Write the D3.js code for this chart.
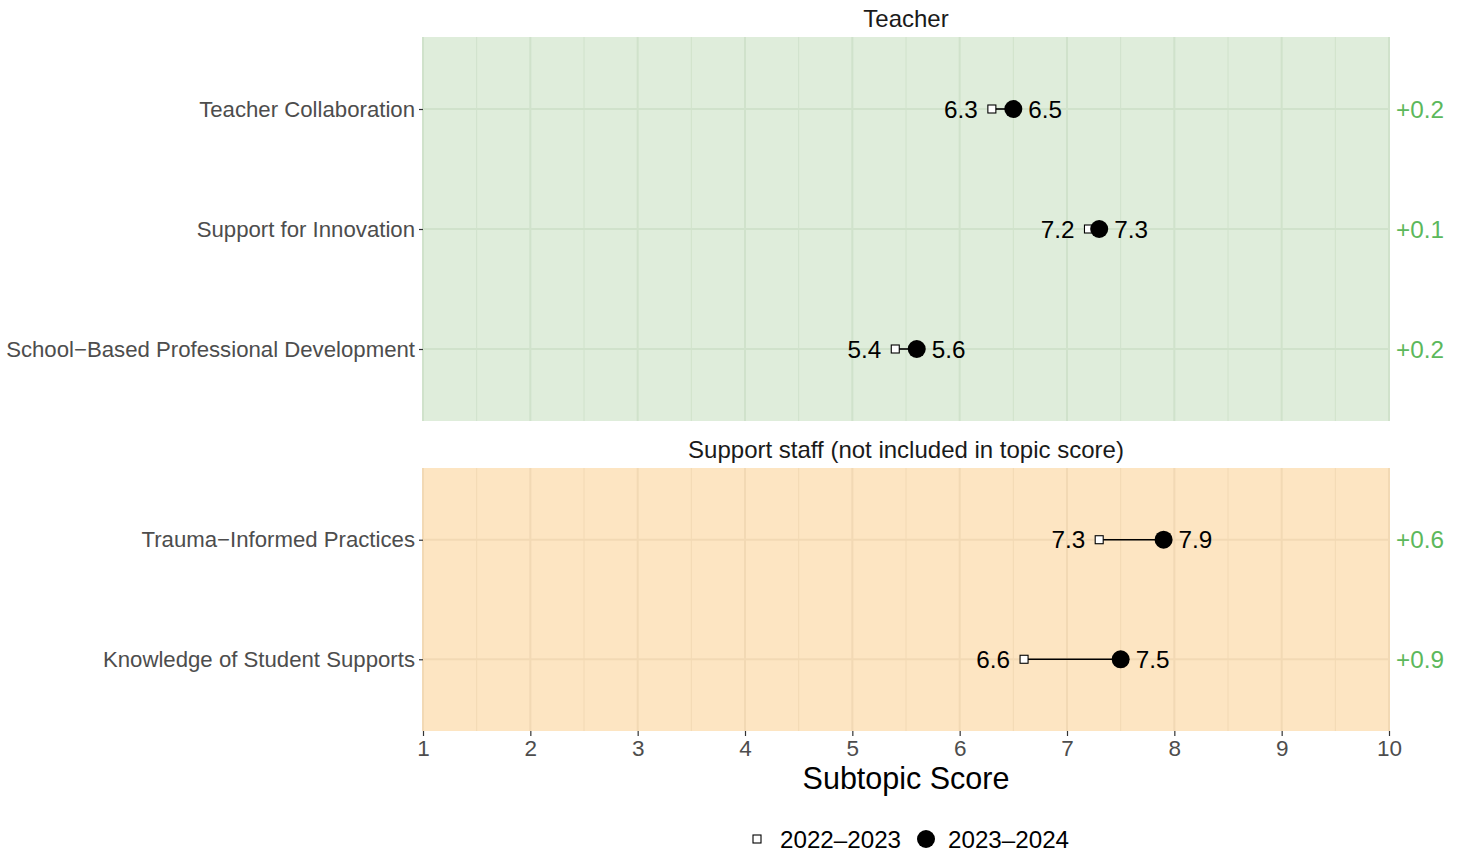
<!DOCTYPE html>
<html>
<head>
<meta charset="utf-8">
<script src="https://cdn.jsdelivr.net/npm/d3@7"></script>
<style>
body{margin:0;background:#fff;}
text{font-family:"Liberation Sans",Arial,sans-serif;}
</style>
</head>
<body>
<svg id="chart" width="1462" height="852"></svg>
<script>
// ---- data ----
const teacherCategories = ["Teacher Collaboration", "Support for Innovation", "School\u2212Based Professional Development"];
const teacherPrev = [6.3, 7.2, 5.4];
const teacherCurr = [6.5, 7.3, 5.6];

const staffCategories = ["Trauma\u2212Informed Practices", "Knowledge of Student Supports"];
const staffPrev = [7.3, 6.6];
const staffCurr = [7.9, 7.5];

const panelTitles = ["Teacher", "Support staff (not included in topic score)"];
const seriesNames = ["2022\u20132023", "2023\u20132024"];
const xTicks = [1, 2, 3, 4, 5, 6, 7, 8, 9, 10];
const xMinorTicks = [1.5, 2.5, 3.5, 4.5, 5.5, 6.5, 7.5, 8.5, 9.5];

// ---- layout ----
const svg = d3.select("#chart");
const x = d3.scaleLinear().domain([1, 10]).range([423, 1389]);

const panels = [
  {title: panelTitles[0], cats: teacherCategories, prev: teacherPrev, curr: teacherCurr,
   top: 37, bottom: 421, fill: "#dfeddb", grid: "#d0e2cb"},
  {title: panelTitles[1], cats: staffCategories, prev: staffPrev, curr: staffCurr,
   top: 468, bottom: 731, fill: "#fde5c2", grid: "#f2d9b4"}
];

const fmtDelta = d => (d >= 0 ? "+" : "") + d.toFixed(1);

panels.forEach(p => {
  const y = d3.scalePoint().domain(p.cats).range([p.top, p.bottom]).padding(0.6);
  const g = svg.append("g");

  g.append("rect").attr("x", x(1)).attr("y", p.top)
    .attr("width", x(10) - x(1)).attr("height", p.bottom - p.top)
    .attr("fill", p.fill);

  // minor grid
  g.selectAll(".minor").data(xMinorTicks).join("line")
    .attr("x1", d => x(d)).attr("x2", d => x(d))
    .attr("y1", p.top).attr("y2", p.bottom)
    .attr("stroke", p.grid).attr("stroke-width", 1);
  // major grid
  g.selectAll(".major").data(xTicks).join("line")
    .attr("x1", d => x(d)).attr("x2", d => x(d))
    .attr("y1", p.top).attr("y2", p.bottom)
    .attr("stroke", p.grid).attr("stroke-width", 2);
  g.selectAll(".hgrid").data(p.cats).join("line")
    .attr("x1", x(1)).attr("x2", x(10))
    .attr("y1", d => y(d)).attr("y2", d => y(d))
    .attr("stroke", p.grid).attr("stroke-width", 2);

  // strip title
  g.append("text").attr("x", (x(1) + x(10)) / 2).attr("y", p.top - 10)
    .attr("text-anchor", "middle").attr("font-size", 24).attr("fill", "#1a1a1a")
    .text(p.title);

  // y axis
  const yAxis = d3.axisLeft(y).tickSize(4).tickPadding(4);
  const ya = g.append("g").attr("transform", `translate(${x(1)},0)`).call(yAxis);
  ya.select(".domain").remove();
  ya.selectAll(".tick line").attr("stroke", "#333").attr("stroke-width", 1.2);
  ya.selectAll(".tick text").attr("font-size", 22.2).attr("fill", "#4d4d4d")
    .attr("font-family", "Liberation Sans, Arial, sans-serif");

  const rows = p.cats.map((c, i) => ({c, prev: p.prev[i], curr: p.curr[i]}));

  // segments
  g.selectAll(".seg").data(rows).join("line")
    .attr("x1", d => x(d.prev)).attr("x2", d => x(d.curr))
    .attr("y1", d => y(d.c)).attr("y2", d => y(d.c))
    .attr("stroke", "#000").attr("stroke-width", 1.6);

  // prev squares
  g.selectAll(".sq").data(rows).join("rect")
    .attr("x", d => x(d.prev) - 4).attr("y", d => y(d.c) - 4)
    .attr("width", 8).attr("height", 8)
    .attr("fill", "#fff").attr("stroke", "#000").attr("stroke-width", 1.1);

  // curr circles
  g.selectAll(".dot").data(rows).join("circle")
    .attr("cx", d => x(d.curr)).attr("cy", d => y(d.c)).attr("r", 9)
    .attr("fill", "#000");

  // value labels
  g.selectAll(".lp").data(rows).join("text")
    .attr("x", d => x(d.prev) - 14).attr("y", d => y(d.c)).attr("dy", "0.36em")
    .attr("text-anchor", "end").attr("font-size", 24.3).attr("fill", "#000")
    .text(d => d.prev.toFixed(1));
  g.selectAll(".lc").data(rows).join("text")
    .attr("x", d => x(d.curr) + 15).attr("y", d => y(d.c)).attr("dy", "0.36em")
    .attr("text-anchor", "start").attr("font-size", 24.3).attr("fill", "#000")
    .text(d => d.curr.toFixed(1));

  // delta labels
  g.selectAll(".dl").data(rows).join("text")
    .attr("x", 1396).attr("y", d => y(d.c)).attr("dy", "0.36em")
    .attr("text-anchor", "start").attr("font-size", 24.3).attr("fill", "#5cb85c")
    .text(d => fmtDelta(Math.round((d.curr - d.prev) * 10) / 10));
});

// x axis
const xAxis = d3.axisBottom(x).tickValues(xTicks).tickSize(5).tickPadding(4).tickFormat(d3.format("d"));
const xa = svg.append("g").attr("transform", "translate(0,731)").call(xAxis);
xa.select(".domain").remove();
xa.selectAll(".tick line").attr("stroke", "#333").attr("stroke-width", 1.2);
xa.selectAll(".tick text").attr("font-size", 22.5).attr("fill", "#4d4d4d")
  .attr("font-family", "Liberation Sans, Arial, sans-serif");

svg.append("text").attr("x", (x(1) + x(10)) / 2).attr("y", 789)
  .attr("text-anchor", "middle").attr("font-size", 30.5).attr("fill", "#000")
  .text("Subtopic Score");

// legend
const lg = svg.append("g");
lg.append("rect").attr("x", 753).attr("y", 835).attr("width", 8).attr("height", 8)
  .attr("fill", "#fff").attr("stroke", "#000").attr("stroke-width", 1.1);
lg.append("text").attr("x", 780).attr("y", 839).attr("dy", "0.36em")
  .attr("font-size", 24.2).attr("fill", "#000").text(seriesNames[0]);
lg.append("circle").attr("cx", 926).attr("cy", 839).attr("r", 9).attr("fill", "#000");
lg.append("text").attr("x", 948).attr("y", 839).attr("dy", "0.36em")
  .attr("font-size", 24.2).attr("fill", "#000").text(seriesNames[1]);
</script>
</body>
</html>
